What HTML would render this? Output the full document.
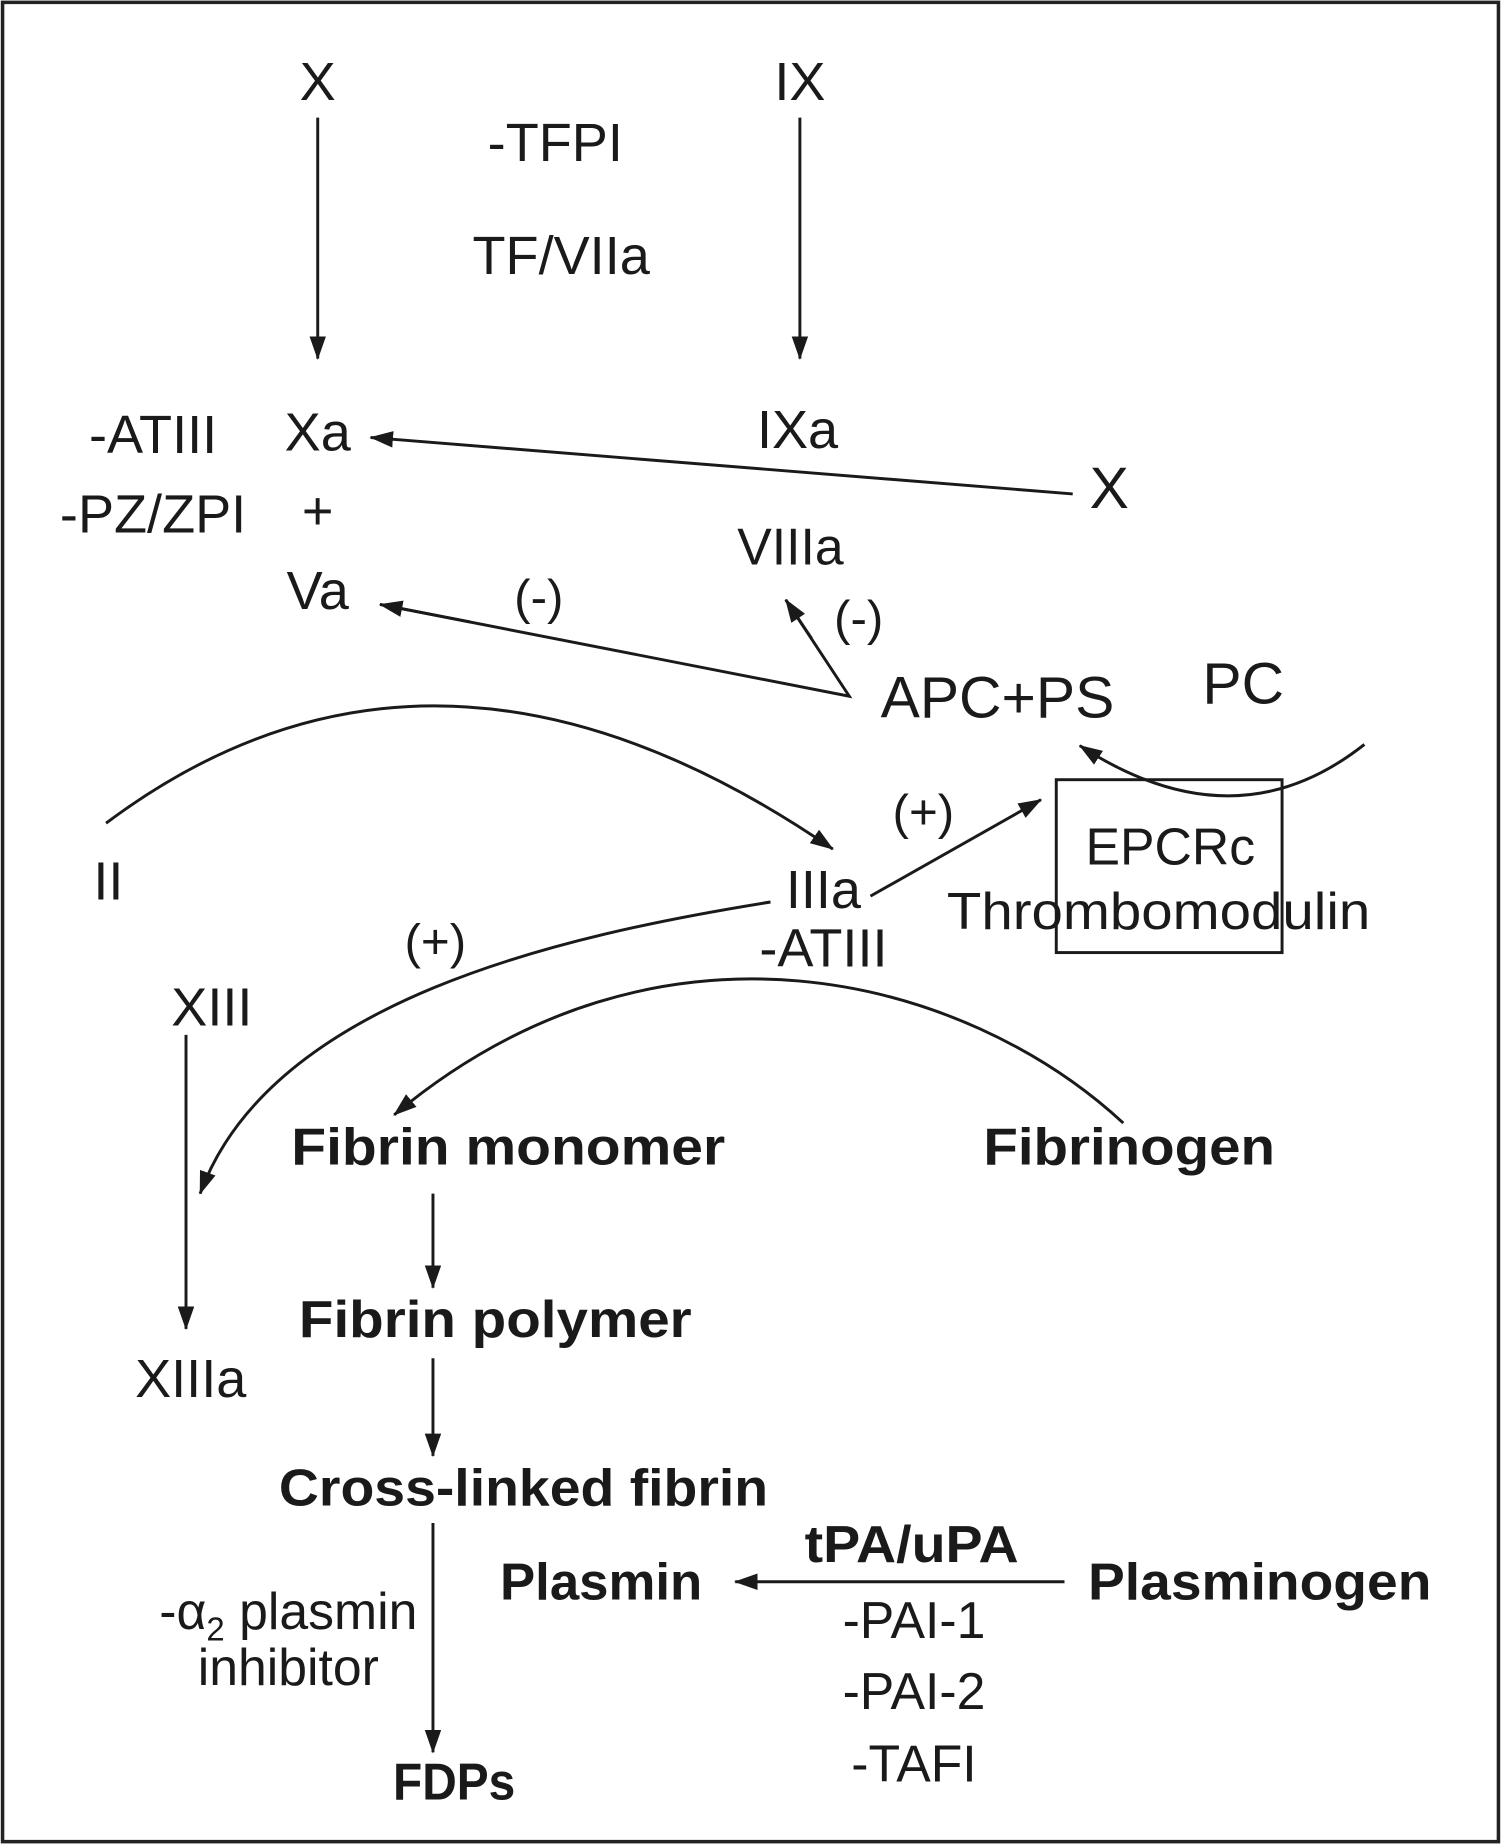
<!DOCTYPE html>
<html><head><meta charset="utf-8"><style>
html,body{margin:0;padding:0;background:#fff}
svg{display:block}
text{font-family:"Liberation Sans",sans-serif;fill:#1a1a1a;text-anchor:middle}
.b{font-weight:bold}
</style></head><body>
<svg width="1501" height="1844" viewBox="0 0 1276 1568" xmlns="http://www.w3.org/2000/svg">
<defs>
<marker id="m" viewBox="0 0 20 14" refX="19" refY="7" markerWidth="20" markerHeight="14" markerUnits="userSpaceOnUse" orient="auto"><path d="M0,0 L20,7 L0,14 Z" fill="#1a1a1a"/></marker></defs>
<rect x="2" y="2" width="1272" height="1564" fill="none" stroke="#222" stroke-width="3"/>
<g stroke="#1a1a1a" stroke-width="2.5" fill="none">
<line x1="270" y1="100" x2="270" y2="305" marker-end="url(#m)"/>
<line x1="680" y1="100" x2="680" y2="305" marker-end="url(#m)"/>
<line x1="912" y1="420" x2="315" y2="372" marker-end="url(#m)"/>
<polyline points="323,514 722,592 668,510" stroke-linejoin="miter"/>
<line x1="400" y1="529" x2="323" y2="514" marker-end="url(#m)"/>
<line x1="690" y1="543" x2="668" y2="510" marker-end="url(#m)"/>
<path d="M90,700 Q370,490 708,722" marker-end="url(#m)"/>
<line x1="740" y1="762" x2="885" y2="680" marker-end="url(#m)"/>
<path d="M1160,633 Q1050,720 918,634" marker-end="url(#m)"/>
<path d="M655,767 C480,795 230,850 170,1015" marker-end="url(#m)"/>
<line x1="158" y1="880" x2="158" y2="1130" marker-end="url(#m)"/>
<path d="M955,955 C820,830 560,760 335,948" marker-end="url(#m)"/>
<line x1="368" y1="1015" x2="368" y2="1095" marker-end="url(#m)"/>
<line x1="368" y1="1155" x2="368" y2="1238" marker-end="url(#m)"/>
<line x1="368" y1="1295" x2="368" y2="1490" marker-end="url(#m)"/>
<line x1="905" y1="1345" x2="625" y2="1345" marker-end="url(#m)"/>
<rect x="898" y="663" width="192" height="147"/>
</g>
<g font-size="46">
<text x="270" y="85">X</text>
<text x="472" y="137">-TFPI</text>
<text x="477" y="233">TF/VIIa</text>
<text x="680" y="85">IX</text>
<text x="130" y="385">-ATIII</text>
<text x="270" y="383">Xa</text>
<text x="678" y="381">IXa</text>
<text x="130" y="453">-PZ/ZPI</text>
<text x="270" y="450">+</text>
<text x="943" y="432" font-size="50">X</text>
<text x="672" y="480" font-size="44">VIIIa</text>
<text x="270" y="518">Va</text>
<text x="458" y="522" font-size="42">(-)</text>
<text x="730" y="540" font-size="42">(-)</text>
<text x="848" y="610" font-size="50">APC+PS</text>
<text x="1057" y="598" font-size="50">PC</text>
<text x="92" y="765">II</text>
<text x="700" y="772">IIIa</text>
<text x="700" y="822">-ATIII</text>
<text x="785" y="705" font-size="42">(+)</text>
<text x="995" y="735" font-size="44">EPCRc</text>
<text x="985" y="790" font-size="44" textLength="360" lengthAdjust="spacingAndGlyphs">Thrombomodulin</text>
<text x="370" y="815" font-size="42">(+)</text>
<text x="180" y="872">XIII</text>
<text x="162" y="1188">XIIIa</text>
<text x="245" y="1385" font-size="44">-α<tspan font-size="28" dy="10">2</tspan><tspan dy="-10"> plasmin</tspan></text>
<text x="245" y="1433" font-size="44">inhibitor</text>
<text x="777" y="1393" font-size="44">-PAI-1</text>
<text x="777" y="1453" font-size="44">-PAI-2</text>
<text x="777" y="1515" font-size="44">-TAFI</text>
</g>
<g font-size="44">
<text class="b" x="432" y="990" textLength="369" lengthAdjust="spacingAndGlyphs">Fibrin monomer</text>
<text class="b" x="960" y="990" textLength="248" lengthAdjust="spacingAndGlyphs">Fibrinogen</text>
<text class="b" x="421" y="1137" textLength="334" lengthAdjust="spacingAndGlyphs">Fibrin polymer</text>
<text class="b" x="445" y="1280" textLength="416" lengthAdjust="spacingAndGlyphs">Cross-linked fibrin</text>
<text class="b" x="511" y="1360" textLength="172" lengthAdjust="spacingAndGlyphs">Plasmin</text>
<text class="b" x="775" y="1328" textLength="182" lengthAdjust="spacingAndGlyphs">tPA/uPA</text>
<text class="b" x="1071" y="1360" textLength="292" lengthAdjust="spacingAndGlyphs">Plasminogen</text>
<text class="b" x="386" y="1530" textLength="104" lengthAdjust="spacingAndGlyphs">FDPs</text>
</g>
</svg>
</body></html>
